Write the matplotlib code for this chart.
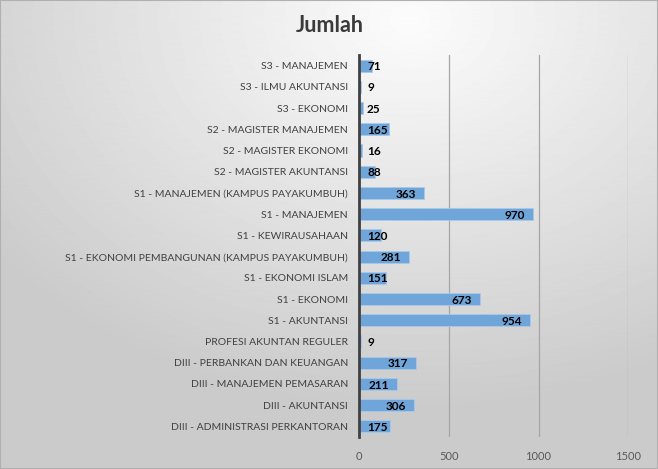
import numpy as np
import matplotlib
matplotlib.use('Agg')
import matplotlib.pyplot as plt
from matplotlib.patches import Rectangle

# data, bottom to top
prodi = ['DIII - ADMINISTRASI PERKANTORAN', 'DIII - AKUNTANSI', 'DIII - MANAJEMEN PEMASARAN',
         'DIII - PERBANKAN DAN KEUANGAN', 'PROFESI AKUNTAN REGULER', 'S1 - AKUNTANSI',
         'S1 - EKONOMI', 'S1 - EKONOMI ISLAM', 'S1 - EKONOMI PEMBANGUNAN (KAMPUS PAYAKUMBUH)',
         'S1 - KEWIRAUSAHAAN', 'S1 - MANAJEMEN', 'S1 - MANAJEMEN (KAMPUS PAYAKUMBUH)',
         'S2 - MAGISTER AKUNTANSI', 'S2 - MAGISTER EKONOMI', 'S2 - MAGISTER MANAJEMEN',
         'S3 - EKONOMI', 'S3 - ILMU AKUNTANSI', 'S3 - MANAJEMEN']
jumlah = [175, 306, 211, 317, 9, 954, 673, 151, 281, 120, 970, 363, 88, 16, 165, 25, 9, 71]
xticks = [0, 500, 1000, 1500]

plt.rcParams['font.family'] = ['Lato', 'DejaVu Sans']

W, H = 658, 469
fig = plt.figure(figsize=(W / 100, H / 100), dpi=100)

# gray radial background like the excel chart style
bg = fig.add_axes([0, 0, 1, 1], zorder=-10)
yy, xx = np.mgrid[0:H, 0:W]
d = np.sqrt(((xx - 410) / 1.0) ** 2 + ((yy - 20) / 0.75) ** 2)
shade = np.clip(252 - 0.095 * d, 203, 252) / 255.0
bg.imshow(shade, cmap='gray', vmin=0, vmax=1, aspect='auto', extent=[0, 1, 0, 1], origin='upper')
bg.set_axis_off()
fig.patches.append(Rectangle((0, 0), 1, 1, transform=fig.transFigure, fill=False,
                             edgecolor='#b0b0b0', linewidth=1.5))

ax = fig.add_axes([359 / W, 1 - 437 / H, (628.3 - 359) / W, (437 - 55) / H])
ax.patch.set_alpha(0)
y = np.arange(len(prodi))
ax.barh(y, jumlah, height=0.57, color='#6fa5d9', edgecolor='#a9c9ea', linewidth=0.6, zorder=3)
ax.set_xlim(0, 1500)
ax.set_ylim(-0.5, len(prodi) - 0.5)
ax.set_xticks(xticks)
ax.set_xticklabels([str(t) for t in xticks])
ax.set_yticks(y)
ax.set_yticklabels(prodi)
ax.tick_params(axis='y', length=0, pad=8, labelsize=7.5, labelcolor='#404040')
ax.tick_params(axis='x', length=0, pad=10, labelsize=8, labelcolor='#595959')
ax.xaxis.grid(True, color='#a6a6a6', linewidth=0.9, zorder=0)
for s in ['top', 'right', 'bottom']:
    ax.spines[s].set_visible(False)
ax.spines['left'].set_color('#404040')
ax.spines['left'].set_linewidth(2)
ax.spines['left'].set_zorder(4)

fig.text(330 / W, 1 - 26 / H, 'Jumlah', ha='center', va='center', fontsize=15.5,
         fontweight='bold', color='#3a3a3a')

# data labels: inside end, pushed out from the base when bar is short
fig.canvas.draw()
renderer = fig.canvas.get_renderer()
px = (628.3 - 359) / 1500.0
for yi, v in zip(y, jumlah):
    t = ax.text(v - 8 / px, yi - 0.05, str(v), ha='right', va='center', fontsize=8.5,
                fontweight='bold', color='black', zorder=5)
    w = t.get_window_extent(renderer).width
    if v * px - 8 - w < 8:
        t.set_x(8 / px)
        t.set_ha('left')

fig.savefig('out.png', dpi=100)
